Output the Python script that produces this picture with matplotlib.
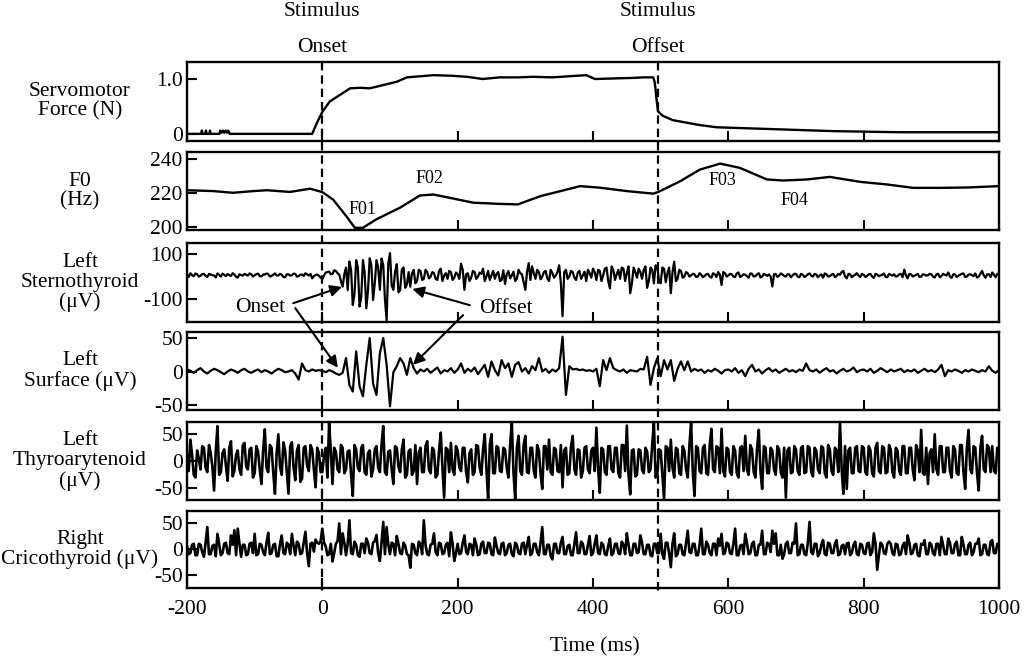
import numpy as np
import matplotlib.pyplot as plt
import matplotlib.transforms as mtransforms
from matplotlib.lines import Line2D

plt.rcParams['font.family'] = ['Liberation Serif', 'DejaVu Serif']
plt.rcParams['axes.unicode_minus'] = False

# ---- data ----
onset_ms = 0
offset_ms = 496

force_t = [-200, -179, -178, -177, -173, -172, -171, -167, -166, -165, -152, -151, -149, -147, -145, -143, -141, -139, -137,
           -15, -8, 0, 11, 26, 41, 56, 70, 90, 110, 125, 145, 164, 190, 214, 237, 262, 290, 311, 340,
           377, 390, 403, 430, 459, 475, 489, 491, 492, 494, 496, 503, 518, 540, 558, 583, 632, 706, 755, 853, 1000]
force_v = [0, 0, 0.06, 0, 0, 0.06, 0, 0, 0.06, 0, 0, 0.06, 0.02, 0.06, 0.02, 0.06, 0.02, 0.06, 0,
           0, 0.2, 0.4, 0.59, 0.71, 0.83, 0.84, 0.83, 0.89, 0.95, 1.03, 1.05, 1.07, 1.06, 1.04, 1.0, 1.03, 1.03, 1.04, 1.03,
           1.06, 1.07, 1.0, 1.01, 1.02, 1.03, 1.03, 0.95, 0.86, 0.62, 0.41, 0.33, 0.25, 0.2, 0.16, 0.12, 0.10, 0.07, 0.05, 0.03, 0.03]

f0_t = [-200, -161, -132, -102, -82, -48, -18, 0, 16, 36, 48, 60, 80, 115, 144, 164, 189, 223, 262, 289,
        322, 381, 410, 450, 489, 496, 529, 558, 588, 617, 657, 681, 716, 750, 795, 834, 873, 913, 953, 1000]
f0_v = [221.5, 221, 220, 221, 221.5, 220.5, 222.4, 220.4, 216, 206, 199.5, 199.5, 204.5, 211.3, 218.4, 219, 217, 214.2, 213.5, 213.2,
        218, 223.9, 223, 221, 219.5, 220.4, 226.8, 233.6, 237.1, 234.6, 227.8, 227.2, 227.8, 229.3, 226.4, 224.9, 222.9, 222.9, 223.1, 223.9]
f0_marks = ['F01', 'F02', 'F03', 'F04']
f0_mark_t = [59, 159, 591, 697]
f0_mark_v = [210.3, 228.4, 227.1, 215.5]

# EMG traces sampled every 5 ms from -200 to 1000 ms (one row = 100 ms)
emg_t = np.arange(-200, 1001, 5)

sterno = [8, 15, 2, 10, 4, 12, -2, 9, 5, 14, 0, 8, 11, 3, 9, -5, 7, 12, 4, 10,
          6, 13, 1, 9, 11, 3, 14, 5, 8, -3, 10, 6, 12, 2, 9, 15, 4, -8, 7, 3,
          -12, 18, 22, 12, 25, 8, -45, 40, 67, -126, 73, -133, 73, -141, 81, -104, 73, -59, 51, -194,
          104, -59, 55, -60, 40, -35, -45, 30, -20, 25, -10, 20, 0, 15, -15, 35, 5, -10, 20, -5,
          10, 57, -59, 15, -5, 20, 0, 12, -20, 25, 5, -10, 20, -15, -33, 25, 5, -20, 30, 10,
          -59, 60, 45, -10, 20, 0, 25, -20, 15, 5, 50, -176, 30, 0, 20, -15, 25, 5, -20, 15,
          35, -15, 25, 5, 40, -52, 30, 10, -10, 35, 15, -74, 40, -5, 20, 30, -50, 40, -30, 45,
          -30, 35, 15, -74, 66, -10, 25, 0, 15, 5, 10, 0, 8, 3, 12, -5, 10, 20, -37, 15,
          5, 10, -2, 18, 3, 8, -5, 12, 2, 15, 0, 8, 10, -44, 12, 4, 9, 0, 10, 5,
          12, -3, 8, 3, 14, 0, 9, 5, -5, 10, 3, 12, 2, 8, 25, -8, 10, 4, 15, -2,
          8, 3, 12, -6, 9, 5, 14, -3, 8, 10, 2, 12, 31, -8, 10, 4, 12, 0, 9, 6,
          10, -4, 12, 3, 8, 18, -6, 10, 4, 12, -2, 9, 6, 14, 0, 25, -5, 10, 18, -3,
          8]
# readings in between (at -197.5, -192.5, ... 997.5 ms)
sterno_mid = [-2, 6, 14, 0, 10, 3, 12, 6, -4, 8, 13, 2, 7, 15, -1, 10, 4, 8, 14, 0,
              11, 2, 9, 14, 0, 8, 5, 12, -2, 10, 4, 13, 0, 8, 3, 10, 12, 2, 9, -5,
              5, 20, 10, 28, 15, -20, 10, -60, 30, -80, 40, -90, 20, -60, 50, -30, 40, 80, -100, 60,
              -40, 20, -70, 30, -50, 20, 15, -30, 30, -15, 30, -8, 20, -10, 25, -20, 15, 25, -15, 18,
              -10, 30, 10, -20, 25, -10, 18, 35, 0, -15, 25, 12, -20, 28, 10, -8, 22, -10, 15, -25,
              20, -15, 15, 30, -12, 20, -8, 30, -5, 20, -30, 20, -10, 25, -5, 18, -10, 22, 30, -5,
              20, 30, -20, 35, -20, 45, -15, 30, 40, -20, 45, -30, 20, 35, -10, 45, -20, 30, 50, -20,
              40, -25, 40, 20, -20, 30, -5, 20, 0, 12, -2, 15, -3, 10, 0, 15, -2, 8, 20, 0,
              12, 0, 15, -2, 10, 2, 14, 0, 10, -4, 12, 3, 0, 10, -2, 14, 3, 10, -3, 12,
              0, 12, -2, 10, 4, 12, -3, 10, 14, 0, 8, -2, 12, 20, 0, 12, -3, 8, 4, 12,
              -2, 10, 0, 12, 2, 8, -2, 12, 4, 0, 10, -3, 5, 12, 0, 8, -2, 10, 4, 12,
              0, 10, -3, 12, 5, 0, 10, -2, 8, 14, 0, 10, 2, -4, 12, 6, 10, -2, 8, 12]

surface = [3, 1, -2, 2, 5, 0, -3, 1, 4, 2, -1, -4, 0, 3, 1, -2, 2, 4, 0, -2,
           1, 3, -1, 2, 0, -3, 1, 4, 2, -1, 0, 2, -3, -12, 12, 2, 0, 3, 1, 2,
           1, -1, 2, 0, -3, -5, -2, 20, -20, -30, 30, -22, -37, 10, 50, -18, -35, 27, 50, 10,
           -52, -1, 8, 20, 12, -5, 20, 5, -3, 3, 0, 4, -2, 2, 6, -3, 2, 0, 5, -2,
           3, 12, -2, 4, 0, 6, -4, 3, 10, -8, 15, 2, -6, 17, 5, 12, -8, 10, 14, 0,
           5, -3, 8, 2, 20, 0, 4, -2, 3, 0, 5, 52, -35, 8, 3, 4, 2, 3, 1, 2,
           0, 4, -22, 17, 2, 20, 5, 2, 0, 3, -2, 2, 1, 0, 4, 3, 22, -20, 5, 20,
           -7, 17, 3, 17, -14, 4, 15, 2, 15, 0, 4, 1, 3, -2, 2, 0, 4, 1, -3, 2,
           3, 0, 5, -2, 2, -7, 4, 10, 0, 3, -3, 2, 5, 0, 3, -2, 1, 4, 0, 2,
           -1, 3, 1, 12, 2, 0, 3, -2, 2, 5, 0, 2, -3, 1, 4, 0, 2, 6, -1, 2,
           3, 0, 4, -2, 1, 5, 2, -1, 3, 0, 2, 4, -1, 2, 0, 3, -2, 1, 4, 0,
           2, -1, 3, 10, -7, 2, 0, 3, 1, -2, 2, 0, 3, 1, -1, 2, 0, 8, 1, -2,
           2]

thyro = [10, 40, -25, 20, -15, 25, -20, 15, -54, 65, -20, 22, -36, 37, -18, 20, -25, 34, -15, 25,
         -22, 18, -42, 59, -20, 25, -60, 50, -25, 20, -60, 35, -35, 30, -32, 28, -18, 22, -48, 15,
         -20, 25, 71, -42, 18, -20, 25, -15, 20, -64, 22, -18, 30, -25, 20, -15, 28, -20, 65, -25,
         20, -42, 25, -20, 40, -25, 22, -18, -42, 25, -20, 37, -22, 20, -25, 53, -67, 22, 34, -25,
         20, -18, 25, -39, 22, -20, 28, -25, 50, -69, 50, -22, 25, -20, 22, -30, 72, -70, 47, -25,
         47, -22, 25, -30, 20, -51, 28, 40, -25, 22, -20, -48, 25, -22, 47, -25, 20, -18, 28, -22,
         25, 62, -58, 22, -25, 28, -20, 25, -30, 30, 66, -61, 22, -25, 20, -22, 18, -15, 72, -25,
         20, -70, 25, 40, -30, 22, -25, 20, -30, 72, -64, 25, -22, 30, -25, 60, -20, 25, 60, -28,
         22, -25, 20, -30, 28, 47, -25, 22, -30, 58, -51, 25, -22, 20, -25, 22, -30, -67, 25, -20,
         22, -25, 28, -20, 25, -28, 20, -22, 25, -30, 22, -25, 20, 71, -60, -51, 25, -22, 28, -20,
         25, -25, 20, -28, 34, -22, 25, -20, 22, -30, 20, -25, 28, -22, 25, -35, 20, 58, -25, -42,
         22, 50, -25, 28, -20, 25, -30, 22, -25, 30, -51, 58, -22, 25, -54, 47, -20, 25, 28, -22,
         15]
thyro_mid = [-18, 12, -30, 5, 28, -12, 30, -10, 18, -25, 15, -8, 25, -28, 12, -15, 30, -10, 22, -30,
             28, -15, 20, -12, 30, -22, 15, -10, 35, -20, 28, -12, 20, -38, 25, -8, 30, -15, 25, -20,
             10, -30, 20, 25, -15, 30, -22, 18, -25, 30, -12, 25, -20, 15, -28, 22, -12, 30, -20, 18,
             -15, 28, -10, 22, -30, 18, -25, 30, 15, -20, 28, -15, 25, -30, 20, -12, 25, -20, -15, 28,
             -12, 25, -20, 15, -25, 30, -12, 22, -15, 30, -22, 28, -18, 25, -12, 30, -20, 25, -18, 30,
             -20, 25, -18, 30, -22, 28, -15, -20, 25, -18, 30, 20, -25, 28, -15, 22, -30, 25, -15, 20,
             -18, -12, 25, -20, 28, -15, 25, -22, 30, -18, -25, 20, -28, 22, -15, 25, -20, 30, -30, 22,
             -25, 28, -18, -12, 25, -22, 28, -15, 30, -20, 28, -18, 25, -22, 30, -15, 28, -22, -18, 25,
             -20, 28, -22, 25, -18, -15, 30, -20, 25, -18, 28, -22, 25, -15, 28, -20, 25, 20, -22, 28,
             -18, 25, -22, 28, -20, 25, -15, 28, -22, 30, -18, 25, -20, -15, 28, 20, -22, 25, -18, 28,
             -20, 28, -22, 25, -18, 28, -22, 30, -20, 25, -18, 28, -22, 25, -15, 30, -20, -22, 25, 15,
             -20, -15, 28, -20, 25, -18, 28, -22, 30, -20, 25, -15, 28, -22, 25, -15, 30, -20, -18, 25]

crico = [5, -8, 10, -12, 8, -15, 42, -10, 8, 29, -12, 10, -8, 26, 36, 39, -15, 8, -10, 12,
         29, -10, 8, -12, 31, -8, 10, -14, 26, -10, 8, 29, -12, 10, -8, 33, -33, 12, 18, 10,
         39, 5, -10, -24, 10, 49, 30, -12, 55, -10, 8, -15, 10, 20, -8, 12, 27, -23, 52, 42,
         -10, 10, 25, -8, 12, -10, -36, 8, -12, 10, 55, -10, 8, 30, -12, 10, -8, 12, 32, -23,
         10, -8, 26, -10, 8, 20, -12, 10, -8, 12, -10, 22, -8, 10, -12, 8, -10, 12, -8, 10,
         -10, 23, -8, 10, -12, 42, -10, 8, -20, 10, -8, 23, -10, 8, -12, 32, -8, 10, -10, 25,
         -8, 26, -10, 8, -12, 20, -8, 10, -10, 8, 30, -12, 10, -8, 26, -10, 8, -12, 10, -8,
         29, -19, 12, -35, 30, -10, 8, -12, 35, -8, 10, -12, 39, -10, 8, -12, 10, 20, 29, -8,
         10, -10, 39, -12, 8, 29, -10, 10, -12, 8, 35, -10, 10, 35, 30, -12, -19, 10, -8, 12,
         49, -10, 8, -12, 52, -10, 10, -8, 17, -12, 10, -8, 17, -10, 8, 10, -12, 8, -10, 10,
         -8, 10, -12, 30, -40, 12, -8, 10, 10, -12, 8, -10, 12, 26, -10, 8, -12, 10, 17, -10,
         8, -12, 10, 23, -10, 20, -8, 10, -12, 23, -10, 8, -12, 10, 20, -10, 8, -12, 17, -8,
         5]
crico_mid = [-10, 8, -12, 10, -6, 12, -10, 6, -14, 10, -8, 12, -10, 8, -12, 10, 8, -12, 10, -8,
             -12, 10, -6, 12, -10, 8, -14, 10, -8, 12, -10, 6, 14, -10, 12, -8, 10, -5, 12, 15,
             12, -12, 10, -8, 15, -10, 12, 10, -8, 14, -12, 10, -8, 12, -10, 15, -8, 12, -10, 8,
             12, -12, 10, -10, 6, -12, 10, -8, 14, -10, 8, -12, 10, -6, 12, -10, 8, -14, 10, -8,
             -10, 12, -6, 10, -12, 8, -10, 14, -8, 10, -12, 6, -10, 12, -8, 10, -14, 8, -10, 12,
             8, -12, 10, -6, 12, -10, 8, -14, 10, -8, 12, -10, 6, -12, 10, -8, 14, -10, 8, -12,
             10, -8, 12, -10, 6, -12, 10, -8, 14, -10, 8, -12, 10, -6, 12, -10, 8, -14, 10, -8,
             -10, 12, -8, 10, -14, 8, -10, 12, -6, 10, -12, 8, -10, 14, -8, 10, -12, 6, -10, 12,
             -8, 10, -12, 6, -10, 12, -8, 14, -12, 8, -10, 12, -6, 10, -12, 8, -10, 14, -8, 10,
             -12, 8, -10, 12, -6, 10, -14, 8, -10, 12, -8, 10, -12, 6, -10, 12, -8, 14, -12, 8,
             -10, 12, -6, 10, -12, 8, -10, 14, -8, 10, -12, 6, -10, 12, -8, 10, -14, 8, -10, 12,
             -8, 10, -12, 6, -10, 12, -8, 14, -12, 8, -10, 12, -6, 10, -12, 8, -10, 14, -8, 10]

ylabels = ['Servomotor\nForce (N)', 'F0\n(Hz)', 'Left\nSternothyroid\n(\u03bcV)',
           'Left\nSurface (\u03bcV)', 'Left\nThyroarytenoid\n(\u03bcV)', 'Right\nCricothyroid (\u03bcV)']
yticks = [[0, 1.0], [200, 220, 240], [-100, 100], [-50, 0, 50], [-50, 0, 50], [-50, 0, 50]]
yticklabels = [['0', '1.0'], ['200', '220', '240'], ['-100', '100'], ['-50', '0', '50'], ['-50', '0', '50'], ['-50', '0', '50']]
ylims = [(-0.13, 1.31), (198.2, 243.9), (-201.6, 149), (-57.5, 59), (-71.5, 72.6), (-75, 72.9)]


def merge(coarse, mid):
    # put the in-between readings back in time order
    t = np.empty(len(coarse) + len(mid))
    v = np.empty(len(coarse) + len(mid))
    t[0::2] = emg_t
    t[1::2] = emg_t[:-1] + 2.5
    v[0::2] = coarse
    v[1::2] = mid
    return t, v


# ---- layout (pixels of a 1024x658 canvas) ----
W, H = 1024, 658
x_left, x_right = 187, 999
tops = [62, 152, 243, 332, 422, 511]
bots = [141, 230, 322, 410, 500, 588]

fig = plt.figure(figsize=(W / 100, H / 100), dpi=100)
axes = []
for top, bot in zip(tops, bots):
    ax = fig.add_axes([x_left / W, 1 - bot / H, (x_right - x_left) / W, (bot - top) / H])
    axes.append(ax)

series = [(force_t, force_v), (f0_t, f0_v), merge(sterno, sterno_mid), (emg_t, surface),
          merge(thyro, thyro_mid), merge(crico, crico_mid)]
widths = [1.7, 1.7, 1.6, 1.6, 1.9, 1.9]
for i, ax in enumerate(axes):
    t, v = series[i]
    ax.plot(t, v, color='black', lw=widths[i])
    ax.set_xlim(-200, 1000)
    ax.set_ylim(*ylims[i])
    ax.set_xticks(range(-200, 1001, 200))
    ax.set_yticks(yticks[i])
    ax.set_yticklabels(yticklabels[i])
    ax.tick_params(direction='in', length=7, width=1.5, labelsize=15.5, pad=3)
    ax.tick_params(axis='x', pad=9, labelbottom=(i == len(axes) - 1))
    for sp in ax.spines.values():
        sp.set_linewidth(1.7)
    yc = 1 - (tops[i] + bots[i]) / 2 / H
    fig.text(80 / W, yc, ylabels[i], ha='center', va='center', fontsize=15.5,
             linespacing=1.05, multialignment='center')

# F0 landmarks
for name, t, v in zip(f0_marks, f0_mark_t, f0_mark_v):
    axes[1].text(t, v, name, fontsize=13, ha='center', va='center')

# Onset / offset arrows
ax3, ax4 = axes[2], axes[3]
ax3.text(-92, -136, 'Onset', fontsize=15.5, ha='center', va='center')
ax3.text(271, -140, 'Offset', fontsize=15.5, ha='center', va='center')
arr = dict(arrowstyle='-|>', color='black', lw=1.5, mutation_scale=17, shrinkA=0, shrinkB=0)
ax3.annotate('', xy=(29, -46), xytext=(-43, -118), arrowprops=arr, annotation_clip=False)
ax3.annotate('', xy=(133, -55), xytext=(218, -127), arrowprops=arr, annotation_clip=False)
ax4.annotate('', xy=(23, 5.5), xycoords='data', xytext=(-40, -140), textcoords=ax3.transData,
             arrowprops=arr, annotation_clip=False)
ax4.annotate('', xy=(134, 10), xycoords='data', xytext=(208, -171), textcoords=ax3.transData,
             arrowprops=arr, annotation_clip=False)

# stimulus markers across all panels
trans = mtransforms.blended_transform_factory(axes[0].transData, fig.transFigure)
for t_mark, word in [(onset_ms, 'Onset'), (offset_ms, 'Offset')]:
    fig.add_artist(Line2D([t_mark, t_mark], [1 - 62 / H, 1 - 592 / H], transform=trans,
                          color='black', lw=1.6, dashes=(3.8, 2.2)))
    fig.text(t_mark, 1 - 11 / H, 'Stimulus', transform=trans, ha='center', va='center', fontsize=15.5)
    fig.text(t_mark, 1 - 47 / H, word, transform=trans, ha='center', va='center', fontsize=15.5)

fig.text(595 / W, 1 - 647 / H, 'Time (ms)', ha='center', va='center', fontsize=15.5)

fig.savefig('out.png', dpi=100)
